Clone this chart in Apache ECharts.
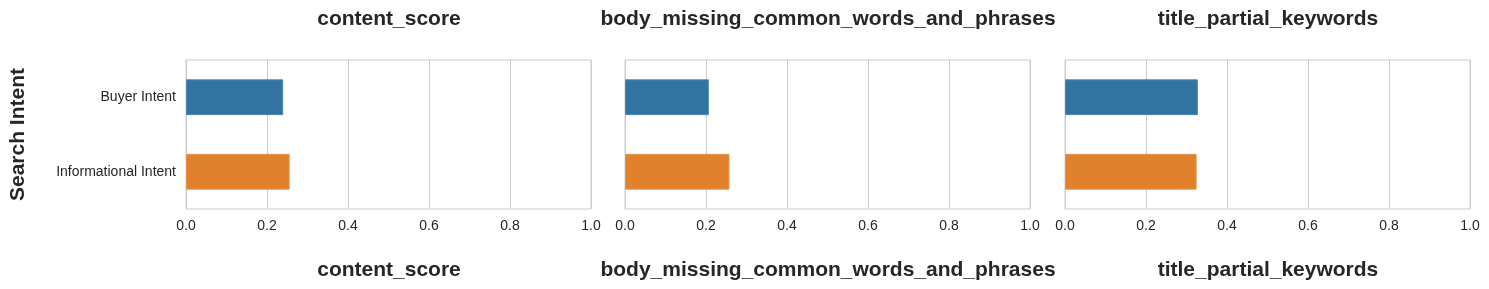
<!DOCTYPE html>
<html>
<head>
<meta charset="utf-8">
<script src="https://cdn.jsdelivr.net/npm/echarts@6/dist/echarts.min.js"></script>
<style>
html,body{margin:0;padding:0;background:#fff;}
#chart{width:1489px;height:289px;}
</style>
</head>
<body>
<div id="chart"></div>
<script>
const categories = ["Buyer Intent", "Informational Intent"];
const metrics = ["content_score", "body_missing_common_words_and_phrases", "title_partial_keywords"];
const contentScore = [0.240, 0.256];
const bodyMissingCommonWords = [0.207, 0.258];
const titlePartialKeywords = [0.328, 0.325];
const xTicks = [0.0, 0.2, 0.4, 0.6, 0.8, 1.0];

const values = [contentScore, bodyMissingCommonWords, titlePartialKeywords];
const barColors = ["#3274a1", "#e1812c"];
const edgeColors = ["#4f86b0", "#e8944a"];
const lefts = [186, 625, 1065];
const gridW = 405;
const font = "'Liberation Sans', Arial, sans-serif";

const grids = [], xAxes = [], yAxes = [], series = [], titles = [];
for (let i = 0; i < 3; i++) {
  grids.push({left: lefts[i], top: 60, width: gridW, height: 149, show: true, borderColor: '#cccccc', borderWidth: 1, containLabel: false});
  xAxes.push({
    type: 'value', gridIndex: i, min: 0, max: 1, interval: 0.2,
    axisLine: {show: false}, axisTick: {show: false},
    splitLine: {show: true, lineStyle: {color: '#cccccc', width: 1}},
    axisLabel: {color: '#262626', fontSize: 14, fontFamily: font, margin: 10,
      formatter: v => xTicks.find(t => Math.abs(t - v) < 1e-9).toFixed(1)}
  });
  yAxes.push({
    type: 'category', gridIndex: i, data: categories, inverse: true,
    axisLine: {show: false}, axisTick: {show: false}, splitLine: {show: false},
    axisLabel: {show: i === 0, color: '#262626', fontSize: 14, fontFamily: font, margin: 10},
    name: i === 0 ? 'Search Intent' : '', nameLocation: 'middle', nameGap: 157,
    nameTextStyle: {fontSize: 21, fontWeight: 'bold', color: '#262626', fontFamily: font}
  });
  series.push({
    type: 'bar', xAxisIndex: i, yAxisIndex: i, barWidth: '48%',
    data: values[i].map((v, k) => ({value: v, itemStyle: {color: barColors[k], borderColor: edgeColors[k], borderWidth: 1}}))
  });
  const cx = lefts[i] + gridW / 2 - 4.5;
  titles.push({text: metrics[i], left: cx, top: 4, textAlign: 'center',
    textStyle: {fontSize: 21, fontWeight: 'bold', color: '#262626', fontFamily: font}});
  titles.push({text: metrics[i], left: cx, top: 255, textAlign: 'center',
    textStyle: {fontSize: 21, fontWeight: 'bold', color: '#262626', fontFamily: font}});
}

const chart = echarts.init(document.getElementById('chart'), null, {renderer: 'canvas'});
chart.setOption({
  backgroundColor: '#ffffff',
  animation: false,
  title: titles,
  grid: grids,
  xAxis: xAxes,
  yAxis: yAxes,
  series: series
});
</script>
</body>
</html>
